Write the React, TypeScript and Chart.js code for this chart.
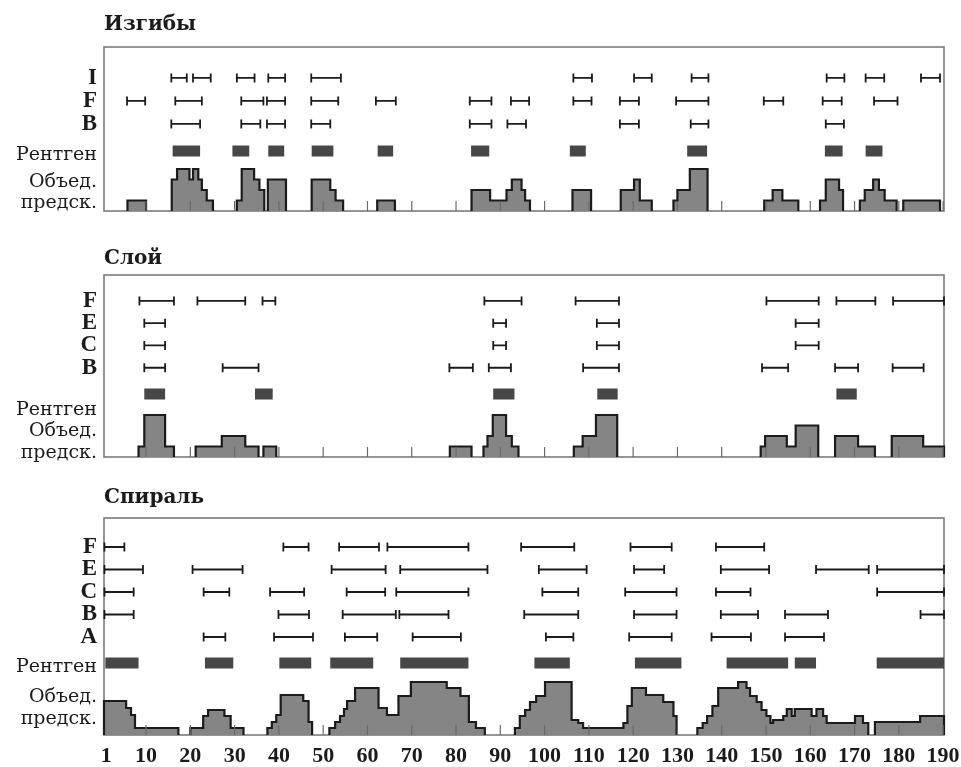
import React, { useEffect, useRef } from 'react';
import { Chart, registerables } from 'chart.js';

Chart.register(...registerables);

// ---------- shared axis ----------
const X_MIN = 0.5;
const X_MAX = 190.2;
const X_TICKS = [1, 10, 20, 30, 40, 50, 60, 70, 80, 90, 100, 110, 120, 130, 140, 150, 160, 170, 180, 190];
const INNER_TICKS = [10, 20, 30, 40, 50, 60, 70, 80, 90, 100, 110, 120, 130, 140, 150, 160, 170, 180, 190];

// ---------- Изгибы ----------
const bendLabels = ['I', 'F', 'B'];
const bendI = [[15.7, 19.2], [20.6, 24.6], [30.5, 34.5], [37.6, 41.4], [47.3, 54], [106.5, 110.7], [120.2, 124.2], [133.2, 137], [163.7, 167.7], [172.5, 176.7], [185, 189.3]];
const bendF = [[5.7, 9.8], [16.6, 22.6], [31.5, 36.5], [37.3, 41.4], [47.3, 53.4], [61.9, 66.4], [83.1, 88], [92.4, 96.5], [106.5, 110.6], [117, 121.3], [129.7, 137], [149.5, 153.9], [162.8, 167.1], [174.4, 179.7]];
const bendB = [[15.7, 22.2], [31.5, 35.8], [37.3, 41.4], [47.3, 51.6], [83.1, 88], [91.6, 95.8], [117, 121.3], [133, 137], [163.5, 167.6]];
const bendXray = [[16, 22.2], [29.5, 33.3], [37.6, 41.2], [47.4, 52.3], [62.3, 65.8], [83.4, 87.5], [105.7, 109.3], [132.2, 136.7], [163.3, 167.3], [172.5, 176.3]];
const bendHist = [
  [[5.8, 1], [10, 0]],
  [[15.8, 3], [17, 4], [19.8, 3], [20.6, 4], [21.8, 3], [22.6, 2], [23.7, 1], [25.1, 0]],
  [[30.5, 1], [31.6, 4], [34.4, 3], [35.6, 2], [36.7, 0]],
  [[37.5, 3], [41.6, 0]],
  [[47.4, 3], [51.6, 2], [52.8, 1], [54.5, 0]],
  [[62.2, 1], [66.2, 0]],
  [[83.5, 2], [87.7, 1], [91.4, 2], [92.6, 3], [94.8, 2], [95.6, 1], [96.7, 0]],
  [[106.3, 2], [110.5, 0]],
  [[117.2, 2], [120.2, 3], [121.5, 1], [124.2, 0]],
  [[129.1, 1], [130, 2], [132.8, 4], [136.8, 0]],
  [[149.6, 1], [151.5, 2], [153.7, 1], [157.3, 0]],
  [[162.2, 1], [163.5, 3], [166.5, 2], [167.4, 0]],
  [[171.2, 1], [172.3, 2], [174.2, 3], [175.5, 2], [176.8, 1], [179.5, 0]],
  [[181, 1], [189.3, 0]],
];

// ---------- Слой ----------
const layerLabels = ['F', 'E', 'C', 'B'];
const layerF = [[8.5, 16.3], [21.6, 32.4], [36.3, 39.2], [86.4, 94.8], [107, 116.8], [150.1, 161.9], [165.9, 174.7], [178.7, 190.2]];
const layerE = [[9.6, 14.3], [88.4, 91.3], [111.8, 116.8], [156.7, 161.9]];
const layerC = [[9.6, 14.3], [88.4, 91.3], [111.8, 116.8], [156.7, 161.9]];
const layerB = [[9.6, 14.3], [27.3, 35.4], [78.5, 83.8], [87.4, 92.4], [108.7, 116.8], [149.1, 155], [165.6, 170.8], [178.6, 185.6]];
const layerXray = [[9.6, 14.3], [34.6, 38.6], [88.4, 93.2], [111.9, 116.5], [165.9, 170.5]];
const layerHist = [
  [[8.3, 1], [9.6, 4], [14.3, 1], [16.3, 0]],
  [[21.2, 1], [27.1, 2], [32.4, 1], [35.4, 0]],
  [[36.5, 1], [39.4, 0]],
  [[78.6, 1], [83.5, 0]],
  [[86.2, 1], [87.1, 2], [88.3, 4], [91.3, 2], [92.6, 1], [94.1, 0]],
  [[106.6, 1], [108.6, 2], [111.6, 4], [116.4, 0]],
  [[148.8, 1], [149.8, 2], [154.7, 1], [156.7, 3], [161.8, 0]],
  [[165.6, 2], [170.8, 1], [174.6, 0]],
  [[178.4, 2], [185.5, 1], [190.2, 0]],
];

// ---------- Спираль ----------
const helixLabels = ['F', 'E', 'C', 'B', 'A'];
const helixF = [[0.6, 5.1], [41, 46.7], [53.6, 62.6], [64.5, 82.8], [94.7, 106.7], [119.4, 128.7], [138.7, 149.6]];
const helixE = [[0.6, 9.3], [20.5, 31.8], [51.9, 64.1], [67.4, 87.1], [98.7, 109.5], [120.2, 127], [139.8, 150.7], [161.3, 173.2], [175.1, 190.2]];
const helixC = [[0.6, 7.2], [23, 28.8], [38, 45.7], [55.3, 64], [66.5, 82.8], [99.5, 107.6], [118.2, 129.8], [138.7, 146.5], [175.1, 190.2]];
const helixB = [[0.6, 7.2], [39.9, 46.8], [54.4, 66.4], [67.2, 78.3], [95.4, 107.6], [120.2, 129.8], [139.8, 148.2], [154.3, 164], [184.9, 190.2]];
const helixA = [[23, 27.9], [38.9, 47.7], [54.9, 62.2], [70.2, 81.1], [100.3, 106.5], [119.1, 128.7], [137.7, 146.6], [154.3, 163.1]];
const helixXray = [[0.8, 8.3], [23.3, 29.7], [40.1, 47.3], [51.6, 61.3], [67.4, 82.8], [97.7, 105.7], [120.4, 130.9], [141.1, 155], [156.5, 161.3], [175, 190.2]];
const helixHist = [
  [[0.5, 3.4], [5.5, 2.7], [6.6, 2.0], [7.5, 0.7], [17.3, 0]],
  [[20, 0.7], [22.9, 1.9], [24, 2.5], [27.7, 1.9], [29.1, 0.7], [32, 0]],
  [[37.4, 0.7], [38.4, 1.3], [39.4, 2], [40.4, 4], [45.5, 3.4], [46.7, 1.3], [47.5, 0]],
  [[51.4, 0.7], [52.7, 1.3], [53.8, 1.9], [54.7, 2.6], [55.4, 3.4], [57.2, 4.7], [62.5, 2.7], [64.4, 2], [67, 3.9], [69.8, 5.3], [77.9, 4.7], [81, 3.9], [82.9, 1.3], [84.5, 0.7], [86.5, 0]],
  [[93.3, 0.7], [94.4, 1.9], [95.6, 2.5], [96.7, 3.3], [98.1, 3.9], [100.1, 5.3], [106.1, 1.5], [107.6, 1.2], [108.7, 0.7], [117.8, 1.2], [118.7, 2.9], [119.7, 4.7], [122.9, 4], [126.8, 3.3], [129.1, 1.9], [129.8, 0]],
  [[134.5, 0.7], [135.7, 1.2], [136.7, 1.9], [137.9, 2.9], [139.2, 4.7], [143.7, 5.3], [145.6, 4.7], [146.4, 3.9], [147.9, 3.3], [149, 2.5], [150.1, 1.9], [151, 1.2], [151.6, 1.5], [153.9, 1.9], [154.7, 2.6], [155.8, 1.9], [156.5, 2.6], [160.3, 1.9], [161.4, 2.6], [162.9, 1.9], [163.7, 1.2], [170.1, 1.9], [171.9, 1.2], [173.1, 0]],
  [[174.6, 1.3], [184.8, 1.9], [190.2, 0]],
];

// ---------- styling ----------
const INK = '#1b1b1b';
const XRAY_COLOR = '#474747';
const HIST_FILL = '#858585';
const FRAME = '#7a7a7a';
const WORD_FONT = { family: '"DejaVu Serif", serif', size: 19, lineHeight: 1.15 };
const LETTER_FONT = { family: '"Liberation Serif", serif', size: 23, weight: 'bold', lineHeight: 1.1 };

const PANELS = [
  {
    title: 'Изгибы', labels: bendLabels, rows: [bendI, bendF, bendB], xray: bendXray, hist: bendHist,
    top: 0, height: 225, titlePad: { top: 13, bottom: 10 }, padBottom: 14, showX: false,
    yMax: 15.62, rowTop: 12.67, rowStep: 2.19, xrayY: 5.71, xrayLabelY: 5.33, histLabelY: 1.75,
  },
  {
    title: 'Слой', labels: layerLabels, rows: [layerF, layerE, layerC, layerB], xray: layerXray, hist: layerHist,
    top: 225, height: 240, titlePad: { top: 22, bottom: 4 }, padBottom: 8, showX: false,
    yMax: 17.33, rowTop: 14.86, rowStep: 2.12, xrayY: 6.0, xrayLabelY: 4.48, histLabelY: 1.45,
  },
  {
    title: 'Спираль', labels: helixLabels, rows: [helixF, helixE, helixC, helixB, helixA], xray: helixXray, hist: helixHist,
    top: 465, height: 302, titlePad: { top: 21, bottom: 8 }, padBottom: 1, showX: true,
    yMax: 21.7, rowTop: 18.8, rowStep: 2.25, xrayY: 7.2, xrayLabelY: 6.8, histLabelY: 2.7,
  },
];

const framePlugin = {
  id: 'panelFrame',
  beforeDatasetsDraw(chart: any) {
    const { ctx, chartArea: a } = chart;
    ctx.save();
    ctx.strokeStyle = FRAME;
    ctx.lineWidth = 1.6;
    ctx.strokeRect(a.left, a.top, a.right - a.left, a.bottom - a.top);
    ctx.restore();
  },
  afterDatasetsDraw(chart: any) {
    const { ctx, chartArea: a, scales } = chart;
    ctx.save();
    ctx.strokeStyle = '#6a6a6a';
    ctx.lineWidth = 1.2;
    INNER_TICKS.forEach((v) => {
      const x = scales.x.getPixelForValue(v);
      ctx.beginPath();
      ctx.moveTo(x, a.bottom);
      ctx.lineTo(x, a.bottom - 10);
      ctx.stroke();
    });
    ctx.restore();
  },
};

function segPoints(segs: number[][], y: number) {
  const out: any[] = [];
  segs.forEach(([a, b]) => {
    out.push({ x: a, y }, { x: b, y }, { x: b, y: null });
  });
  return out;
}

function Panel({ spec }: { spec: any }) {
  const ref = useRef<HTMLCanvasElement>(null);
  useEffect(() => {
    const datasets: any[] = [];
    spec.hist.forEach((block: number[][]) => {
      datasets.push({
        data: [{ x: block[0][0], y: 0 }, ...block.map(([x, y]) => ({ x, y }))],
        stepped: 'before',
        fill: 'origin',
        backgroundColor: HIST_FILL,
        borderColor: INK,
        borderWidth: 2.2,
        borderJoinStyle: 'miter',
        pointRadius: 0,
        clip: false,
      });
    });
    datasets.push({
      data: segPoints(spec.xray, spec.xrayY),
      borderColor: XRAY_COLOR,
      borderWidth: 11,
      borderCapStyle: 'butt',
      pointRadius: 0,
      fill: false,
      clip: false,
    });
    spec.rows.forEach((segs: number[][], i: number) => {
      datasets.push({
        data: segPoints(segs, spec.rowTop - i * spec.rowStep),
        borderColor: INK,
        borderWidth: 1.8,
        pointStyle: 'line',
        pointRotation: 90,
        pointRadius: 4.5,
        pointBorderWidth: 1.8,
        pointBorderColor: INK,
        pointBackgroundColor: INK,
        fill: false,
        clip: false,
      });
    });

    const yLabels = [
      ...spec.labels.map((t: string, i: number) => ({ value: spec.rowTop - i * spec.rowStep, text: t, bold: true })),
      { value: spec.xrayLabelY, text: 'Рентген', bold: false },
      { value: spec.histLabelY, text: ['Объед.', 'предск.'], bold: false },
    ];

    const chart = new Chart(ref.current as HTMLCanvasElement, {
      type: 'line',
      data: { datasets },
      plugins: [framePlugin],
      options: {
        animation: false,
        responsive: false,
        events: [],
        layout: { padding: { left: 0, right: 17, top: 0, bottom: spec.padBottom } },
        plugins: {
          legend: { display: false },
          tooltip: { enabled: false },
          title: {
            display: true,
            text: spec.title,
            align: 'start',
            fullSize: false,
            color: INK,
            font: { family: '"DejaVu Serif", serif', size: 20, weight: 'bold', lineHeight: 1.2 },
            padding: spec.titlePad,
          },
        },
        scales: {
          x: {
            type: 'linear',
            min: X_MIN,
            max: X_MAX,
            display: spec.showX,
            afterBuildTicks: (scale: any) => {
              scale.ticks = X_TICKS.map((v) => ({ value: v }));
            },
            afterFit: (scale: any) => {
              scale.paddingLeft = 0;
              scale.paddingRight = 0;
              if (spec.showX) scale.height = 31;
            },
            grid: { display: false, drawTicks: false },
            border: { display: false },
            ticks: {
              autoSkip: false,
              maxRotation: 0,
              padding: 10,
              color: INK,
              font: { family: '"Liberation Serif", serif', size: 22, weight: 'bold', lineHeight: 1 },
              callback: (v: any) => String(v),
            },
          },
          y: {
            type: 'linear',
            min: 0,
            max: spec.yMax,
            afterBuildTicks: (scale: any) => {
              scale.ticks = yLabels.map((l) => ({ value: l.value }));
            },
            afterFit: (scale: any) => {
              scale.width = 104;
              scale.paddingTop = 0;
              scale.paddingBottom = 0;
            },
            grid: { display: false, drawTicks: false },
            border: { display: false },
            ticks: {
              autoSkip: false,
              padding: 7,
              color: INK,
              callback: (_v: any, i: number) => (yLabels[i] ? yLabels[i].text : ''),
              font: (ctx: any) => (yLabels[ctx.index] && yLabels[ctx.index].bold ? LETTER_FONT : WORD_FONT) as any,
            },
          },
        },
      } as any,
    });
    return () => chart.destroy();
  }, [spec]);

  return (
    <canvas
      ref={ref}
      width={961}
      height={spec.height}
      style={{ display: 'block', position: 'absolute', left: 0, top: spec.top, width: 961, height: spec.height }}
    />
  );
}

export default function App() {
  return (
    <div style={{ position: 'absolute', left: 0, top: 0, width: 961, height: 767, overflow: 'hidden', background: '#fff' }}>
      {PANELS.map((p) => (
        <Panel key={p.title} spec={p} />
      ))}
    </div>
  );
}
